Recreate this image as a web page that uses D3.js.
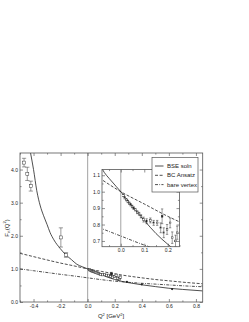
<!DOCTYPE html>
<html>
<head>
<meta charset="utf-8">
<script src="https://cdn.jsdelivr.net/npm/d3@7"></script>
<style>
  body { margin: 0; background: #fff; }
  text { font-family: "Liberation Sans", Arial, sans-serif; fill: #222; }
</style>
</head>
<body>
<svg id="chart" width="249" height="322"></svg>
<script>
// curves
const bseQ2 = [-0.422, -0.40, -0.376, -0.35, -0.327, -0.30, -0.278, -0.25, -0.204, -0.16, -0.12, -0.08, -0.04, 0, 0.05, 0.1, 0.15, 0.2, 0.25, 0.3, 0.4, 0.5, 0.6, 0.7, 0.85];
const bseF  = [4.50, 4.00, 3.36, 2.90, 2.62, 2.34, 2.10, 1.88, 1.62, 1.42, 1.28, 1.14, 1.065, 1.0, 0.91, 0.825, 0.745, 0.68, 0.625, 0.585, 0.52, 0.465, 0.415, 0.38, 0.335];

const bcQ2 = [-0.5, -0.4, -0.3, -0.2, -0.1, 0, 0.1, 0.2, 0.3, 0.4, 0.5, 0.6, 0.7, 0.85];
const bcF  = [1.47, 1.37, 1.27, 1.175, 1.09, 1.0, 0.925, 0.85, 0.785, 0.73, 0.68, 0.64, 0.60, 0.55];

const bareQ2 = [-0.5, -0.4, -0.3, -0.2, -0.1, 0, 0.1, 0.2, 0.3, 0.4, 0.5, 0.6, 0.7, 0.85];
const bareF  = [1.0, 0.945, 0.89, 0.835, 0.785, 0.73, 0.675, 0.63, 0.595, 0.565, 0.54, 0.515, 0.49, 0.46];

// timelike data (open squares)
const tlQ2  = [-0.47, -0.446, -0.42, -0.198, -0.16];
const tlF   = [4.21, 3.87, 3.50, 1.95, 1.42];
const tlErr = [0.13, 0.20, 0.15, 0.29, 0.07];

// spacelike data near Q2 = 0 (shown in both panels)
const slQ2  = [0.012, 0.017, 0.024, 0.030, 0.036, 0.042, 0.048, 0.055, 0.062, 0.070, 0.078, 0.086, 0.097, 0.11, 0.126, 0.14, 0.155, 0.17, 0.183, 0.197, 0.21, 0.219, 0.233, 0.24];
const slF   = [0.976, 0.962, 0.95, 0.94, 0.93, 0.92, 0.91, 0.90, 0.89, 0.875, 0.865, 0.85, 0.83, 0.82, 0.825, 0.81, 0.81, 0.78, 0.75, 0.77, 0.81, 0.72, 0.70, 0.75];
const slErr = [0.006, 0.006, 0.006, 0.007, 0.007, 0.007, 0.008, 0.008, 0.008, 0.009, 0.009, 0.01, 0.015, 0.015, 0.015, 0.015, 0.015, 0.03, 0.03, 0.03, 0.03, 0.035, 0.035, 0.04];

// filled point in inset
const fillQ2 = [0.176];
const fillF = [0.85];
const fillErr = [0.045];

// filled dots at larger Q2
const dotQ2 = [0.29, 0.40, 0.624];
const dotF  = [0.61, 0.535, 0.39];

const legendLabels = ["BSE soln", "BC Ansatz", "bare vertex"];
const dashes = [null, "3,1.6", "3,1.3,0.8,1.3"];

const mainXTicks = [-0.4, -0.2, 0.0, 0.2, 0.4, 0.6, 0.8];
const mainXMinor = [-0.5, -0.3, -0.1, 0.1, 0.3, 0.5, 0.7];
const mainYTicks = [0, 1, 2, 3, 4];
const mainYMinor = [0.5, 1.5, 2.5, 3.5];
const insXTicks = [0.0, 0.1, 0.2];
const insXMinor = [-0.05, 0.05, 0.15, 0.25];
const insYTicks = [0.7, 0.8, 0.9, 1.0, 1.1];
const insYMinor = [0.75, 0.85, 0.95, 1.05];

const svg = d3.select("#chart");
const ink = "#222";
const fmt = d => d.toFixed(1);

function zip(a, b) { return a.map((v, i) => [v, b[i]]); }

function panel(g, x, y, o) {
    const [x0, x1] = x.range();
    const [y0, y1] = y.range();
    const id = o.id;
    g.append("rect").attr("x", x0).attr("y", y1).attr("width", x1 - x0).attr("height", y0 - y1)
        .attr("fill", "#fff");
    g.append("clipPath").attr("id", id).append("rect")
        .attr("x", x0).attr("y", y1).attr("width", x1 - x0).attr("height", y0 - y1);

    const body = g.append("g").attr("clip-path", `url(#${id})`);
    // zero line
    body.append("line").attr("x1", x(0)).attr("x2", x(0)).attr("y1", y1).attr("y2", y0)
        .attr("stroke", "#999").attr("stroke-width", 0.9);

    const line = d3.line().x(d => x(d[0])).y(d => y(d[1])).curve(d3.curveMonotoneX);
    const curves = [zip(bseQ2, bseF), zip(bcQ2, bcF), zip(bareQ2, bareF)];
    curves.forEach((c, i) => {
        body.append("path").datum(c).attr("d", line)
            .attr("fill", "none").attr("stroke", ink).attr("stroke-width", 0.8)
            .attr("stroke-dasharray", dashes[i]);
    });

    function errPoints(qs, fs, es, filled, size) {
        qs.forEach((q, i) => {
            const px = x(q), py = y(fs[i]);
            const top = y(fs[i] + es[i]), bot = y(fs[i] - es[i]);
            const cap = size * 0.7;
            body.append("line").attr("x1", px).attr("x2", px).attr("y1", top).attr("y2", bot)
                .attr("stroke", ink).attr("stroke-width", 0.45);
            [top, bot].forEach(yy => body.append("line")
                .attr("x1", px - cap).attr("x2", px + cap).attr("y1", yy).attr("y2", yy)
                .attr("stroke", ink).attr("stroke-width", 0.45));
            body.append("rect").attr("x", px - size / 2).attr("y", py - size / 2)
                .attr("width", size).attr("height", size)
                .attr("fill", filled ? ink : "#fff").attr("stroke", ink).attr("stroke-width", 0.45);
        });
    }
    errPoints(tlQ2, tlF, tlErr, false, o.marker);
    errPoints(slQ2, slF, slErr, false, o.marker * 0.7);
    errPoints(fillQ2, fillF, fillErr, true, o.marker * 0.7);
    dotQ2.forEach((q, i) => body.append("circle").attr("cx", x(q)).attr("cy", y(dotF[i]))
        .attr("r", 1.1).attr("fill", ink));

    // axes with inward ticks
    const axes = [
        [d3.axisBottom(x), `translate(0,${y0})`, o.xt, o.xm, true],
        [d3.axisTop(x), `translate(0,${y1})`, o.xt, o.xm, false],
        [d3.axisLeft(y), `translate(${x0},0)`, o.yt, o.ym, true],
        [d3.axisRight(y), `translate(${x1},0)`, o.yt, o.ym, false]
    ];
    axes.forEach(([ax, tr, major, minor, labels], k) => {
        const scaleDom = k < 2 ? x.domain() : y.domain();
        const inDom = v => v >= Math.min(...scaleDom) - 1e-9 && v <= Math.max(...scaleDom) + 1e-9;
        const a = g.append("g").attr("transform", tr)
            .call(ax.tickValues(major.filter(inDom)).tickSize(-3).tickPadding(2)
                .tickFormat(labels ? fmt : ""));
        a.select(".domain").remove();
        a.selectAll("text").attr("font-size", 5).style("font-family", "Liberation Sans, Arial, sans-serif").attr("fill", ink);
        a.selectAll("line").attr("stroke", ink).attr("stroke-width", 0.5);
        const b = g.append("g").attr("transform", tr)
            .call(ax.tickValues(minor.filter(inDom)).tickSize(-1.6).tickFormat(""));
        b.select(".domain").remove();
        b.selectAll("line").attr("stroke", ink).attr("stroke-width", 0.5);
    });

    g.append("rect").attr("x", x0).attr("y", y1).attr("width", x1 - x0).attr("height", y0 - y1)
        .attr("fill", "none").attr("stroke", "#555").attr("stroke-width", 0.8);
}

// main panel
const x = d3.scaleLinear().domain([-0.5, 0.85]).range([20, 202.7]);
const y = d3.scaleLinear().domain([0, 4.5]).range([302, 153]);
panel(svg.append("g"), x, y, {
    id: "clipMain", marker: 3, xt: mainXTicks, xm: mainXMinor, yt: mainYTicks, ym: mainYMinor
});

// inset panel
const xi = d3.scaleLinear().domain([-0.08, 0.25]).range([102, 179.5]);
const yi = d3.scaleLinear().domain([0.665, 1.135]).range([246.7, 169.5]);
panel(svg.append("g"), xi, yi, {
    id: "clipInset", marker: 2.4, xt: insXTicks, xm: insXMinor, yt: insYTicks, ym: insYMinor
});

// axis titles
const xt = svg.append("text").attr("x", 111).attr("y", 318).attr("text-anchor", "middle")
    .attr("font-size", 6);
xt.append("tspan").text("Q");
xt.append("tspan").attr("font-size", 4).attr("dy", -2.3).text("2");
xt.append("tspan").attr("dy", 2.3).text("  [GeV");
xt.append("tspan").attr("font-size", 4).attr("dy", -2.3).text("2");
xt.append("tspan").attr("dy", 2.3).text("]");

const yt = svg.append("text").attr("transform", "translate(8.5,228) rotate(-90)")
    .attr("text-anchor", "middle").attr("font-size", 6);
yt.append("tspan").text("F");
yt.append("tspan").attr("font-size", 4).attr("dy", 1.5).text("π");
yt.append("tspan").attr("dy", -1.5).text("(Q");
yt.append("tspan").attr("font-size", 4).attr("dy", -2.3).text("2");
yt.append("tspan").attr("dy", 2.3).text(")");

// legend
const lg = svg.append("g");
lg.append("rect").attr("x", 152).attr("y", 157.5).attr("width", 46).attr("height", 34.5)
    .attr("fill", "#fff").attr("stroke", "#555").attr("stroke-width", 0.7);
legendLabels.forEach((lab, i) => {
    const ly = 166 + i * 9.3;
    lg.append("line").attr("x1", 155).attr("x2", 163.5).attr("y1", ly).attr("y2", ly)
        .attr("stroke", ink).attr("stroke-width", 0.8).attr("stroke-dasharray", dashes[i]);
    lg.append("text").attr("x", 167).attr("y", ly + 2).attr("font-size", 6).text(lab);
});
</script>
</body>
</html>
